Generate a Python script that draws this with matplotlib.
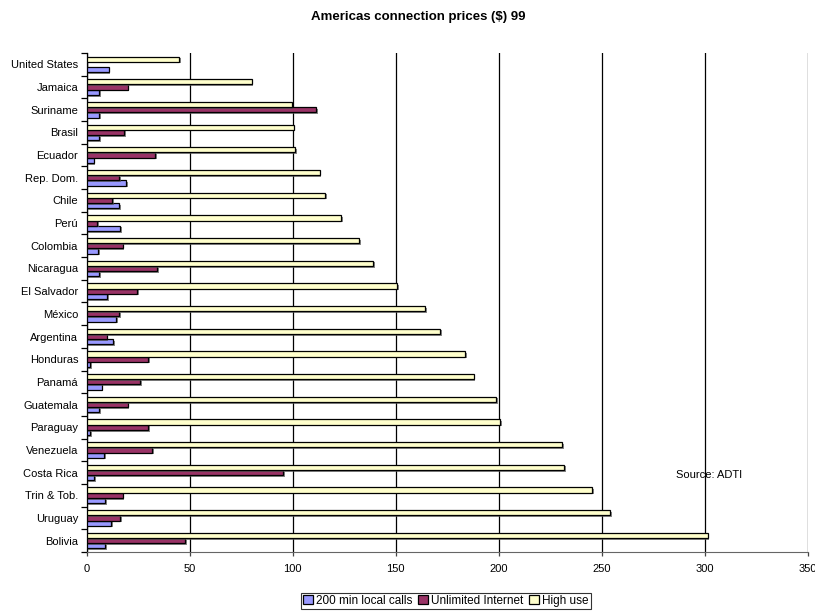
import numpy as np
import matplotlib.pyplot as plt
import matplotlib.patheffects as pe

plt.rcParams['font.family'] = ['Liberation Sans', 'DejaVu Sans']

# --- Data (bottom to top, as Excel draws it) ---
countries = ["Bolivia", "Uruguay", "Trin & Tob.", "Costa Rica", "Venezuela",
             "Paraguay", "Guatemala", "Panamá", "Honduras", "Argentina",
             "México", "El Salvador", "Nicaragua", "Colombia", "Perú",
             "Chile", "Rep. Dom.", "Ecuador", "Brasil", "Suriname",
             "Jamaica", "United States"]
local_calls = [9.2, 12.1, 9, 3.7, 8.5, 1.8, 6, 7.4, 1.8, 12.9,
               14.4, 10, 6.1, 5.7, 16.2, 15.8, 19.2, 3.4, 6, 6, 6, 10.8]
unlimited = [47.8, 16.2, 17.5, 95.4, 31.8, 30, 19.9, 26, 29.9, 9.8,
             15.8, 24.7, 34.4, 17.6, 5.3, 12.3, 15.8, 33.3, 18.3, 111.5, 19.9, 0]
high_use = [301.4, 253.9, 245.2, 231.6, 230.7, 200.6, 198.8, 187.8, 183.8, 171.5,
            164.4, 150.7, 139.2, 132.4, 123.7, 115.9, 113.1, 101.2, 100.5, 99.6, 80.2, 44.9]

n = len(countries)
y = np.arange(n)
h = 0.23

fig = plt.figure(figsize=(8.15, 6.11), dpi=100)
ax = fig.add_axes([86.5 / 815, 59 / 611, (808 - 86.5) / 815, (552 - 53) / 611])

shadow = [pe.SimplePatchShadow(offset=(1.2, -1.2), shadow_rgbFace='#555555', alpha=0.7), pe.Normal()]
kw = dict(height=h, edgecolor='black', linewidth=0.9, path_effects=shadow, zorder=3)
ax.barh(y - h, local_calls, color='#9999FF', label='200 min local calls', **kw)
ax.barh(y, unlimited, color='#993366', label='Unlimited Internet', **kw)
ax.barh(y + h, high_use, color='#FFFFCC', label='High use', **kw)

ax.set_xlim(0, 350)
ax.set_ylim(-0.5, n - 0.5)
ax.set_xticks(np.arange(0, 351, 50))
ax.xaxis.grid(True, color='black', linewidth=0.9, zorder=0)
ax.set_axisbelow(True)

ax.set_yticks(y)
ax.set_yticklabels(countries)
ax.set_yticks(np.arange(-0.5, n, 1), minor=True)
ax.tick_params(axis='y', which='major', length=0, pad=6, labelsize=8)
ax.tick_params(axis='y', which='minor', length=4, width=0.9, direction='out')
ax.tick_params(axis='x', length=3, width=0.9, labelsize=8, pad=6, color='#444444')

for s in ['top', 'right']:
    ax.spines[s].set_visible(False)
ax.spines['left'].set_linewidth(0.9)
ax.spines['bottom'].set_color('#666666')

ax.text(286, 2.9, "Source: ADTI", fontsize=8, va='center', ha='left')
fig.text(418 / 815, 1 - 17 / 611, "Americas connection prices ($) 99",
         fontsize=9.5, fontweight='bold', ha='center', va='center')

leg = fig.legend(loc='center', bbox_to_anchor=(446 / 815, 1 - 601 / 611), ncol=3,
                 fontsize=8.5, frameon=True, fancybox=False, edgecolor='black',
                 handlelength=0.8, handleheight=0.8, handletextpad=0.3,
                 columnspacing=0.5, borderpad=0.2, borderaxespad=0)
leg.get_frame().set_linewidth(0.8)
for hdl in leg.legend_handles:
    hdl.set_path_effects([])

fig.savefig("out.png", dpi=100)
